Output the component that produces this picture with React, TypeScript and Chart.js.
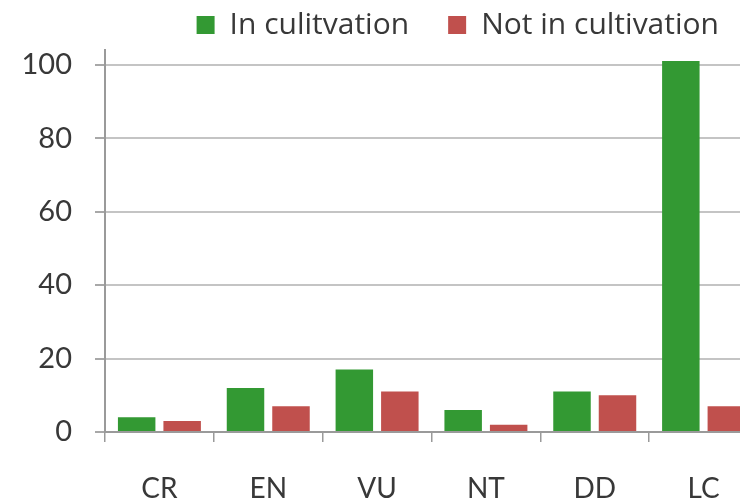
import React, { useEffect, useRef } from "react";
import { Chart, registerables } from "chart.js";

Chart.register(...registerables);

const categories = ["CR", "EN", "VU", "NT", "DD", "LC"];
const inCultivation = [4, 12, 17, 6, 11, 101];
const notInCultivation = [3, 7, 11, 2, 10, 7];
const yTicks = [0, 20, 40, 60, 80, 100];
const seriesNames = ["In culitvation", "Not in cultivation"];

const FONT = 'Lato, "Open Sans", sans-serif';
const LEGEND_FONT = '"Open Sans", Lato, sans-serif';

export default function App() {
  const ref = useRef<HTMLCanvasElement | null>(null);

  useEffect(() => {
    if (!ref.current) return;
    const chart = new Chart(ref.current, {
      type: "bar",
      data: {
        labels: categories,
        datasets: [
          {
            label: seriesNames[0],
            data: inCultivation,
            backgroundColor: "#339933",
            categoryPercentage: 0.836,
            barPercentage: 0.824,
          },
          {
            label: seriesNames[1],
            data: notInCultivation,
            backgroundColor: "#C0504D",
            categoryPercentage: 0.836,
            barPercentage: 0.824,
          },
        ],
      },
      options: {
        responsive: false,
        animation: false,
        devicePixelRatio: 1,
        layout: { padding: 0 },
        plugins: {
          tooltip: { enabled: false },
          legend: {
            position: "top",
            align: "end",
            labels: {
              boxWidth: 18,
              boxHeight: 18,
              padding: 39,
              color: "#383838",
              font: { family: LEGEND_FONT, size: 30 },
            },
          },
        },
        scales: {
          x: {
            grid: {
              display: true,
              drawOnChartArea: false,
              drawTicks: true,
              tickLength: 10,
              color: "#9a9a9a",
              lineWidth: 1.5,
            },
            border: { display: true, color: "#9a9a9a", width: 2 },
            ticks: {
              color: "#383838",
              padding: 30,
              font: { family: FONT, size: 28 },
              maxRotation: 0,
            },
            afterFit: (scale: any) => {
              scale.height = 70;
            },
          },
          y: {
            min: 0,
            max: 104,
            grid: {
              color: "#c4c4c4",
              lineWidth: 2,
              tickLength: 10,
              tickColor: "#a8a8a8",
            },
            border: { display: true, color: "#9a9a9a", width: 2 },
            ticks: {
              stepSize: 20,
              includeBounds: false,
              padding: 23,
              color: "#383838",
              font: { family: FONT, size: 29 },
              callback: (v: any) => (yTicks.includes(Number(v)) ? String(v) : ""),
            },
            afterFit: (scale: any) => {
              scale.width = 105;
            },
          },
        },
      },
    });
    return () => chart.destroy();
  }, []);

  return (
    <div
      style={{
        position: "fixed",
        left: 0,
        top: 0,
        width: 740,
        height: 502,
        overflow: "hidden",
        background: "#ffffff",
      }}
    >
      <canvas
        ref={ref}
        width={758}
        height={531}
        style={{ position: "absolute", left: 0, top: -29, width: 758, height: 531 }}
      />
    </div>
  );
}
